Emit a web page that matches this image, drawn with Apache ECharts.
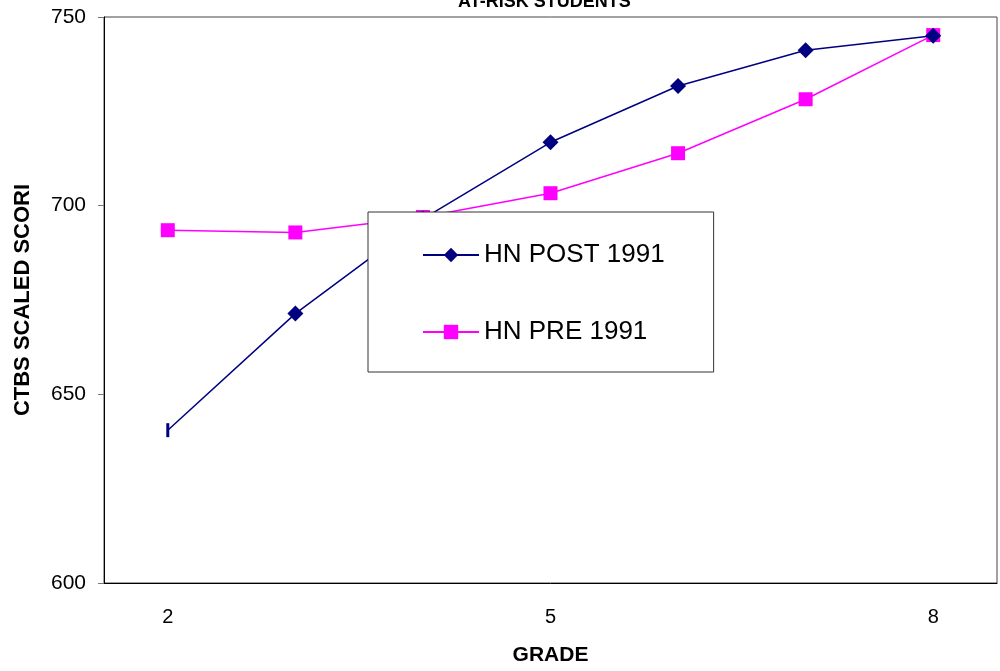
<!DOCTYPE html>
<html>
<head>
<meta charset="utf-8">
<script src="https://cdn.jsdelivr.net/npm/echarts@6/dist/echarts.min.js"></script>
<style>
html,body{margin:0;padding:0;background:#fff;}
#chart{width:1000px;height:671px;}
</style>
</head>
<body>
<div id="chart"></div>
<script>
var grades = ['2', '3', '4', '5', '6', '7', '8'];
var hnPost1991 = [640.5, 671.4, 696.5, 716.8, 731.7, 741.2, 745.0];
var hnPre1991 = [693.5, 692.9, 697.0, 703.3, 713.9, 728.2, 745.2];
var yTicks = [600, 650, 700, 750];

var chart = echarts.init(document.getElementById('chart'));
var font = 'Liberation Sans, Arial, sans-serif';

var postData = hnPost1991.map(function (v, i) {
  if (i === 0) return { value: v, symbol: 'rect', symbolSize: [3, 14] };
  return v;
});

chart.setOption({
  animation: false,
  backgroundColor: '#fff',
  title: {
    text: 'AT-RISK STUDENTS',
    left: 453,
    top: -12,
    textStyle: { fontFamily: font, fontSize: 18, fontWeight: 'bold', color: '#000' }
  },
  grid: {
    left: 104, right: 3, top: 17, bottom: 88,
    containLabel: false,
    outerBoundsMode: 'none',
    show: true, borderColor: '#444', borderWidth: 1, backgroundColor: 'transparent'
  },
  legend: {
    orient: 'vertical',
    left: 368,
    top: 212,
    padding: [28, 49, 25, 54],
    itemGap: 47,
    itemWidth: 56,
    itemHeight: 18,
    backgroundColor: '#fff',
    borderColor: '#333',
    borderWidth: 1,
    textStyle: { fontFamily: font, fontSize: 26, color: '#000', lineHeight: 30 },
    data: ['HN POST 1991', 'HN PRE 1991']
  },
  xAxis: {
    type: 'category',
    data: grades,
    boundaryGap: true,
    name: 'GRADE',
    nameLocation: 'middle',
    nameGap: 62,
    nameTextStyle: { fontFamily: font, fontSize: 21, fontWeight: 'bold', color: '#000' },
    axisLine: { lineStyle: { color: '#000', width: 1 } },
    axisTick: { show: false },
    axisLabel: { interval: 2, margin: 24, fontFamily: font, fontSize: 20, color: '#000' },
    splitLine: { show: false }
  },
  yAxis: {
    type: 'value',
    min: yTicks[0],
    max: yTicks[yTicks.length - 1],
    interval: 50,
    name: 'CTBS SCALED SCORI',
    nameLocation: 'middle',
    nameGap: 70,
    nameTextStyle: { fontFamily: font, fontSize: 22, fontWeight: 'bold', color: '#000' },
    axisLine: { show: true, lineStyle: { color: '#000', width: 1 } },
    axisTick: { show: true, length: 6, lineStyle: { color: '#777' } },
    axisLabel: { margin: 18, fontFamily: font, fontSize: 21, color: '#000' },
    splitLine: { show: false }
  },
  series: [
    {
      name: 'HN POST 1991',
      type: 'line',
      data: postData,
      symbol: 'diamond',
      symbolSize: 16,
      color: '#000080',
      lineStyle: { color: '#000080', width: 1.5 },
      itemStyle: { color: '#000080' },
      z: 3
    },
    {
      name: 'HN PRE 1991',
      type: 'line',
      data: hnPre1991,
      symbol: 'rect',
      symbolSize: 14,
      color: '#ff00ff',
      lineStyle: { color: '#ff00ff', width: 1.5 },
      itemStyle: { color: '#ff00ff' },
      z: 2
    }
  ]
});
</script>
</body>
</html>
